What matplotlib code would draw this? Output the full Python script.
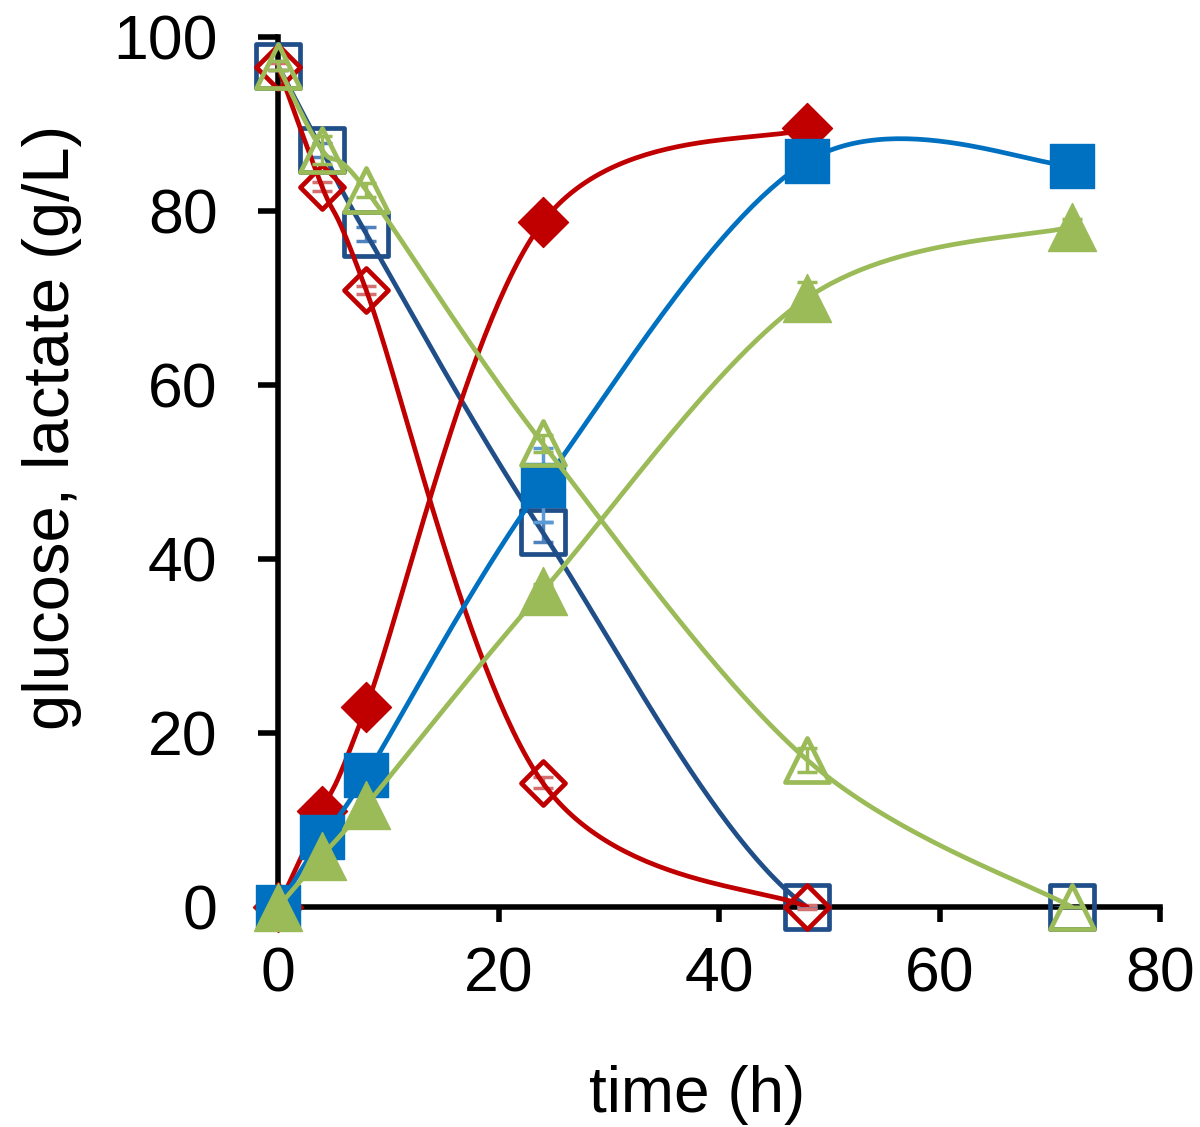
import numpy as np
import matplotlib
matplotlib.use("Agg")
import matplotlib.pyplot as plt
from matplotlib.markers import MarkerStyle

plt.rcParams['font.family'] = ['Liberation Sans', 'DejaVu Sans']

# ---------------- data ----------------
time_a = [0, 4, 8, 24, 48]            # red series
time_b = [0, 4, 8, 24, 48, 72]        # blue & green series

red_glucose   = [96.6, 82.8, 70.9, 14.3, 0.0]
red_glu_err   = [0.4, 0.5, 0.45, 0.6, 0.2]
red_lactate   = [0.0, 11.0, 23.0, 78.7, 89.5]
red_lac_err   = [0.0, 0.5, 0.5, 0.8, 0.5]

dblue_glucose = [96.7, 87.0, 77.4, 43.1, 0.0, 0.0]
dblue_glu_err = [0.5, 0.8, 0.8, 1.2, 0.0, 0.0]
blue_lactate  = [0.0, 8.0, 15.2, 48.5, 85.7, 85.2]
blue_lac_err  = [0.0, 0.5, 0.5, 4.3, 0.5, 0.5]

green_glucose = [96.7, 87.0, 82.4, 53.3, 16.9, 0.0]
green_glu_err = [0.5, 1.6, 0.8, 1.0, 1.4, 0.0]
green_lactate = [0.0, 5.9, 11.7, 36.3, 70.0, 78.2]
green_lac_err = [0.0, 0.3, 0.5, 0.8, 1.8, 0.9]

xticks = [0, 20, 40, 60, 80]
yticks = [0, 20, 40, 60, 80, 100]


def smooth(x, y, n=60):
    """Excel-like smoothed line (Catmull-Rom as cubic Bezier)."""
    pts = np.column_stack([np.asarray(x, float), np.asarray(y, float)])
    N = len(pts)
    out = []
    t = np.linspace(0, 1, n)[:, None]
    for i in range(N - 1):
        p0 = pts[i - 1] if i > 0 else pts[i]
        p1 = pts[i]
        p2 = pts[i + 1]
        p3 = pts[i + 2] if i + 2 < N else pts[i + 1]
        c1 = p1 + (p2 - p0) / 6.0
        c2 = p2 - (p3 - p1) / 6.0
        seg = (1 - t) ** 3 * p1 + 3 * (1 - t) ** 2 * t * c1 + 3 * (1 - t) * t ** 2 * c2 + t ** 3 * p2
        out.append(seg if i == 0 else seg[1:])
    s = np.vstack(out)
    return s[:, 0], s[:, 1]


fig = plt.figure(figsize=(12, 11.27), dpi=100)
ax = fig.add_axes([278 / 1200, (1127 - 907) / 1127, 882 / 1200, 870 / 1127])

LW = 3.4
series = [
    # x, y, err, color, errcolor, marker, ms, filled
    (time_b, dblue_glucose, dblue_glu_err, '#1F4E89', '#4F81BD', 's', 31, False),
    (time_a, red_glucose,   red_glu_err,   '#C00000', '#D47070', 'D', 22.5, False),
    (time_a, red_lactate,   red_lac_err,   '#C00000', '#D47070', 'D', 25.5, True),
    (time_b, blue_lactate,  blue_lac_err,  '#0070C0', '#5B9BD5', 's', 32, True),
    (time_b, green_glucose, green_glu_err, '#9BBB59', '#9BBB59', '^', 32, False),
    (time_b, green_lactate, green_lac_err, '#9BBB59', '#9BBB59', '^', 35, True),
]

for k, (x, y, e, c, ec, m, ms, filled) in enumerate(series):
    z = 3 + k
    ax.errorbar(x, y, yerr=e, fmt='none', ecolor=ec, elinewidth=2.5,
                capsize=7, capthick=2.5, zorder=z, clip_on=False)
    sx, sy = smooth(x, y)
    ax.plot(sx, sy, color=c, lw=LW, zorder=z + 0.1, solid_capstyle='round',
            solid_joinstyle='round')
    mk = MarkerStyle(m, joinstyle='round')
    if filled:
        ax.plot(x, y, linestyle='none', marker=mk, ms=ms, mfc=c, mec=c, mew=1.0,
                zorder=z + 0.2, clip_on=False)
    else:
        ax.plot(x, y, linestyle='none', marker=mk, ms=ms, mfc='none', mec=c, mew=3.4,
                zorder=z + 0.2, clip_on=False)

ax.set_xlim(0, 80)
ax.set_ylim(0, 100)
for s in ['top', 'right']:
    ax.spines[s].set_visible(False)
for s in ['left', 'bottom']:
    ax.spines[s].set_linewidth(4)
    ax.spines[s].set_zorder(2)

ax.set_xticks(xticks)
ax.set_yticks(yticks)
ax.set_xticklabels([str(v) for v in xticks])
ax.set_yticklabels([str(v) for v in yticks])
ax.tick_params(axis='x', direction='out', length=11, width=4, pad=17, labelsize=45)
ax.tick_params(axis='y', direction='out', length=14.5, width=4, pad=29, labelsize=45)

fig.text(697 / 1200, (1127 - 1112) / 1127, 'time (h)', ha='center', va='baseline', fontsize=46)
fig.text(52 / 1200, 1 - 427 / 1127, 'glucose, lactate (g/L)', ha='center', va='center',
         rotation=90, fontsize=47)

fig.savefig('out.png', dpi=100)
